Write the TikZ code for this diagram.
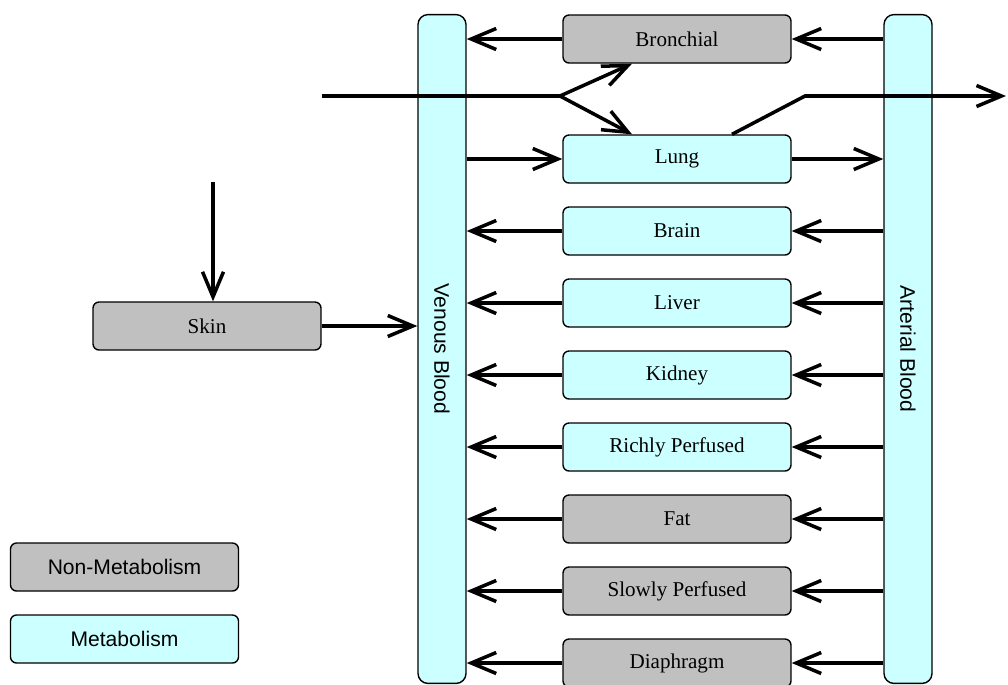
\documentclass[tikz,border=0pt]{standalone}
\usepackage{fontspec}
\setmainfont{Liberation Serif}
\setsansfont{Liberation Sans}
\usetikzlibrary{arrows.meta}
\definecolor{metab}{HTML}{CCFFFF}
\definecolor{nonmetab}{HTML}{C0C0C0}
\begin{document}
\begin{tikzpicture}
        [x=0.02cm, y=-0.02cm,
        organ/.style={draw, thick, rounded corners=0.12cm, minimum width=4.56cm, minimum height=0.96cm, font=\fontsize{12}{14}\selectfont},
        metabox/.style={organ, fill=metab},
        nonmetabox/.style={organ, fill=nonmetab},
        legend/.style={organ, font=\sffamily\fontsize{12}{14}\selectfont},
        blood/.style={draw, thick, fill=metab, rounded corners=0.2cm, minimum width=0.96cm, minimum height=13.38cm, font=\sffamily\fontsize{12}{14}\selectfont},
        flow/.style={line width=2pt, -{Straight Barb[length=5mm, width=4.2mm, line width=2pt]}},
        line/.style={line width=2pt}]

        \useasboundingbox (0,0) rectangle (1008,684);

        % blood pools
        \node[blood] (venous) at (442,349) {\rotatebox{-90}{Venous Blood}};
        \node[blood] (arterial) at (908,349) {\rotatebox{-90}{Arterial Blood}};

        % organs
        \node[nonmetabox] (bronchial) at (677,39) {Bronchial};
        \node[metabox] (lung) at (677,159) {Lung};
        \node[metabox] (brain) at (677,231) {Brain};
        \node[metabox] (liver) at (677,303) {Liver};
        \node[metabox] (kidney) at (677,375) {Kidney};
        \node[metabox] (richly) at (677,447) {Richly Perfused};
        \node[nonmetabox] (fat) at (677,519) {Fat};
        \node[nonmetabox] (slowly) at (677,591) {Slowly Perfused};
        \node[nonmetabox] (diaphragm) at (677,663) {Diaphragm};
        \node[nonmetabox] (skin) at (207,326) {Skin};

        % legend
        \node[legend, fill=nonmetab] (legnon) at (124.5,567) {Non-Metabolism};
        \node[legend, fill=metab] (legmet) at (124.5,639) {Metabolism};

        % inhalation / exhalation
        \coordinate (inhale) at (322,96);
        \coordinate (split) at (560,96);
        \coordinate (bend) at (805,96);
        \coordinate (exhale) at (1006,96);
        \coordinate (dermal) at (213,182);
        \draw[line] (inhale) -- (split);
        \draw[flow] (split) -- (bronchial.south -| 632,0);
        \draw[flow] (split) -- (lung.north -| 632,0);
        \draw[flow] (lung.north -| 732,0) -- (bend) -- (exhale);
        \draw[flow] (dermal) -- (skin.north -| dermal);
        \draw[flow] (skin) -- (skin -| venous.west);

        % lung circulation
        \draw[flow] (lung -| venous.east) -- (lung.west);
        \draw[flow] (lung.east) -- (lung -| arterial.west);

        % systemic circulation
        \foreach \o in {bronchial, brain, liver, kidney, richly, fat, slowly, diaphragm}
        {
          \draw[flow] (\o -| arterial.west) -- (\o.east);
          \draw[flow] (\o.west) -- (\o -| venous.east);
        }

        \end{tikzpicture}
\end{document}
